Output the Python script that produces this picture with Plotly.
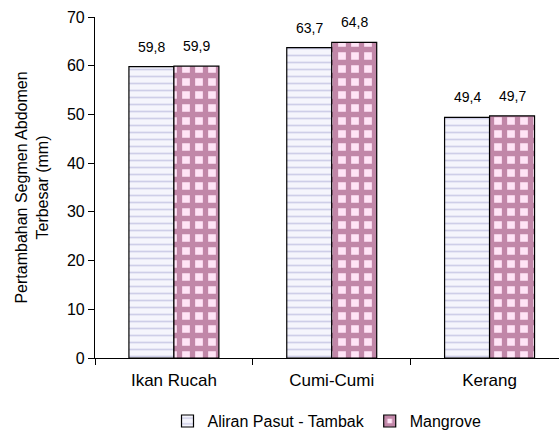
import plotly.graph_objects as go

categories = ["Ikan Rucah", "Cumi-Cumi", "Kerang"]
series_names = ["Aliran Pasut - Tambak", "Mangrove"]
aliran = [59.8, 63.7, 49.4]
mangrove = [59.9, 64.8, 49.7]
y_ticks = [0, 10, 20, 30, 40, 50, 60, 70]

FONT = "Liberation Sans, Arial, sans-serif"

fig = go.Figure()
fig.add_trace(go.Bar(
    x=categories, y=aliran, name=series_names[0],
    marker=dict(color="#f5f5fc", line=dict(color="black", width=1.2),
                pattern=dict(shape="-", fgcolor="#a8a8d4", bgcolor="#f5f5fc",
                             size=7, solidity=0.25)),
))
fig.add_trace(go.Bar(
    x=categories, y=mangrove, name=series_names[1],
    marker=dict(color="#ffe4f6", line=dict(color="black", width=1.2),
                pattern=dict(shape="+", fgcolor="#842a5a", bgcolor="#ffe4f6",
                             size=13, solidity=0.65)),
))

# value labels
for vals, shift in ((aliran, -22.5), (mangrove, 22.5)):
    for c, v in zip(categories, vals):
        fig.add_annotation(x=c, y=v, text=f"{v:.1f}".replace(".", ","),
                           showarrow=False, xshift=shift, yshift=10,
                           yanchor="bottom", font=dict(size=14, color="black", family=FONT))

fig.update_layout(
    width=559, height=431,
    margin=dict(l=95, r=0, t=17, b=73, autoexpand=False),
    paper_bgcolor="white", plot_bgcolor="white",
    barmode="group", bargap=0.43, bargroupgap=0,
    font=dict(family=FONT, color="black", size=14),
    showlegend=True,
    legend=dict(orientation="h", xref="paper", yref="paper",
                x=0.5, xanchor="center", y=-0.185, yanchor="middle",
                font=dict(size=16), itemwidth=30, tracegroupgap=0),
    separators=",.",
)
fig.update_xaxes(
    range=[-0.5, 2.44], showline=True, linecolor="black", linewidth=1.2,
    ticks="outside", tickson="boundaries", ticklen=6, tickcolor="black",
    tickfont=dict(size=17), ticklabelstandoff=6, showgrid=False,
)
fig.update_yaxes(
    range=[0, 70], tickvals=y_ticks, showline=True, linecolor="black", linewidth=1.2,
    ticks="outside", ticklen=6, tickcolor="black", tickfont=dict(size=16),
    showgrid=False, zeroline=False,
    title=dict(text="Pertambahan Segmen Abdomen<br>Terbesar (mm)", font=dict(size=16), standoff=14),
)

fig.write_html("out.html")
